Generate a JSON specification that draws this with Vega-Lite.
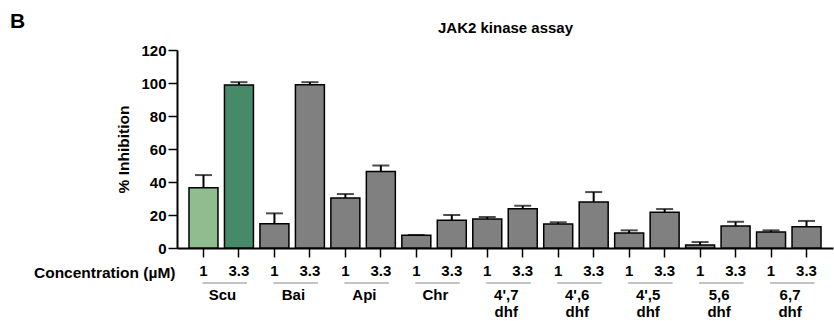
{
  "$schema": "https://vega.github.io/schema/vega-lite/v6.json",
  "autosize": {"type": "none"},
  "width": 656,
  "height": 198,
  "padding": {"left": 177, "top": 50, "right": 1, "bottom": 73},
  "background": "white",
  "title": {"text": "B", "anchor": "start", "frame": "group", "dx": -167, "dy": 16, "fontSize": 21, "fontWeight": "bold", "font": "Liberation Sans", "color": "black", "offset": 4},
  "config": {"view": {"stroke": null}, "font": "Liberation Sans"},
  "data": {"values": [
    {"id": "Scu|1", "value": 36.5, "upper": 44.2, "grp": "a"},
    {"id": "Scu|3.3", "value": 98.8, "upper": 100.5, "grp": "b"},
    {"id": "Bai|1", "value": 14.7, "upper": 21.0, "grp": "c"},
    {"id": "Bai|3.3", "value": 98.9, "upper": 100.5, "grp": "c"},
    {"id": "Api|1", "value": 30.3, "upper": 32.7, "grp": "c"},
    {"id": "Api|3.3", "value": 46.3, "upper": 50.0, "grp": "c"},
    {"id": "Chr|1", "value": 7.7, "upper": 7.9, "grp": "c"},
    {"id": "Chr|3.3", "value": 16.8, "upper": 20.0, "grp": "c"},
    {"id": "4',7|1", "value": 17.6, "upper": 18.8, "grp": "c"},
    {"id": "4',7|3.3", "value": 23.8, "upper": 25.6, "grp": "c"},
    {"id": "4',6|1", "value": 14.5, "upper": 15.6, "grp": "c"},
    {"id": "4',6|3.3", "value": 27.9, "upper": 33.9, "grp": "c"},
    {"id": "4',5|1", "value": 9.1, "upper": 10.7, "grp": "c"},
    {"id": "4',5|3.3", "value": 21.6, "upper": 23.6, "grp": "c"},
    {"id": "5,6|1", "value": 1.8, "upper": 3.6, "grp": "c"},
    {"id": "5,6|3.3", "value": 13.3, "upper": 15.9, "grp": "c"},
    {"id": "6,7|1", "value": 9.7, "upper": 10.7, "grp": "c"},
    {"id": "6,7|3.3", "value": 12.9, "upper": 16.4, "grp": "c"}
  ]},
  "datasets": {
    "groups": [
      {"first": "Scu|1", "second": "Scu|3.3", "label": "Scu"},
      {"first": "Bai|1", "second": "Bai|3.3", "label": "Bai"},
      {"first": "Api|1", "second": "Api|3.3", "label": "Api"},
      {"first": "Chr|1", "second": "Chr|3.3", "label": "Chr"},
      {"first": "4',7|1", "second": "4',7|3.3", "label": "4',7\ndhf"},
      {"first": "4',6|1", "second": "4',6|3.3", "label": "4',6\ndhf"},
      {"first": "4',5|1", "second": "4',5|3.3", "label": "4',5\ndhf"},
      {"first": "5,6|1", "second": "5,6|3.3", "label": "5,6\ndhf"},
      {"first": "6,7|1", "second": "6,7|3.3", "label": "6,7\ndhf"}
    ]
  },
  "resolve": {"axis": {"x": "independent", "y": "independent"}, "scale": {"x": "shared", "y": "shared"}},
  "layer": [
    {
      "mark": {"type": "bar", "stroke": "black", "strokeWidth": 1.5},
      "encoding": {
        "x": {"field": "id", "type": "nominal",
          "scale": {"domain": ["Scu|1","Scu|3.3","Bai|1","Bai|3.3","Api|1","Api|3.3","Chr|1","Chr|3.3","4',7|1","4',7|3.3","4',6|1","4',6|3.3","4',5|1","4',5|3.3","5,6|1","5,6|3.3","6,7|1","6,7|3.3"], "paddingInner": 0.183, "paddingOuter": 0.338},
          "axis": {"title": "Concentration (µM)", "titleX": -2, "titleY": 24, "titleAlign": "right", "titleBaseline": "middle", "titleAngle": 0, "titleFontSize": 15.5, "titleFontWeight": "bold", "titleColor": "black",
            "labelExpr": "split(datum.value, '|')[1]", "labelAngle": 0, "labelFontSize": 15, "labelFontWeight": "bold", "labelColor": "black", "labelPadding": 6,
            "tickSize": 9, "tickWidth": 1.5, "tickColor": "black", "domainColor": "black", "domainWidth": 2}},
        "y": {"field": "value", "type": "quantitative",
          "scale": {"domain": [0, 120], "nice": false},
          "axis": {"title": "% Inhibition", "values": [0,20,40,60,80,100,120], "labelOverlap": false, "grid": false, "titleFontSize": 15.5, "titleFontWeight": "bold", "titleColor": "black", "titlePadding": 9,
            "labelFontSize": 15, "labelFontWeight": "bold", "labelColor": "black", "labelPadding": 2,
            "tickSize": 9, "tickWidth": 1.5, "tickColor": "black", "domainColor": "black", "domainWidth": 2}},
        "color": {"field": "grp", "type": "nominal", "scale": {"domain": ["a","b","c"], "range": ["#8fbd8f", "#478a6a", "#808080"]}, "legend": null}
      }
    },
    {
      "mark": {"type": "rule", "color": "black", "strokeWidth": 2},
      "encoding": {
        "x": {"field": "id", "type": "nominal", "axis": null},
        "y": {"field": "value", "type": "quantitative", "axis": null},
        "y2": {"field": "upper"}
      }
    },
    {
      "mark": {"type": "tick", "color": "black", "size": 17, "thickness": 2},
      "encoding": {
        "x": {"field": "id", "type": "nominal", "axis": null},
        "y": {"field": "upper", "type": "quantitative", "axis": null}
      }
    },
    {
      "data": {"name": "groups"},
      "mark": {"type": "text", "align": "center", "baseline": "top", "dx": 19, "dy": 40, "lineBreak": "\n", "lineHeight": 17, "fontSize": 15, "fontWeight": "bold", "color": "black"},
      "encoding": {
        "x": {"field": "first", "type": "nominal",
          "axis": {"orient": "top", "title": "JAK2 kinase assay", "titleFontSize": 15, "titleFontWeight": "bold", "titleColor": "black", "titlePadding": 15, "domain": false, "ticks": false, "labels": false}},
        "y": {"datum": 0, "type": "quantitative", "axis": null},
        "text": {"field": "label"}
      }
    },
    {
      "data": {"name": "groups"},
      "mark": {"type": "rule", "color": "#888888", "strokeWidth": 1.2, "yOffset": 35, "xOffset": -1, "x2Offset": 8},
      "encoding": {
        "x": {"field": "first", "type": "nominal", "axis": null},
        "x2": {"field": "second"},
        "y": {"datum": 0, "type": "quantitative", "axis": null}
      }
    }
  ]
}
